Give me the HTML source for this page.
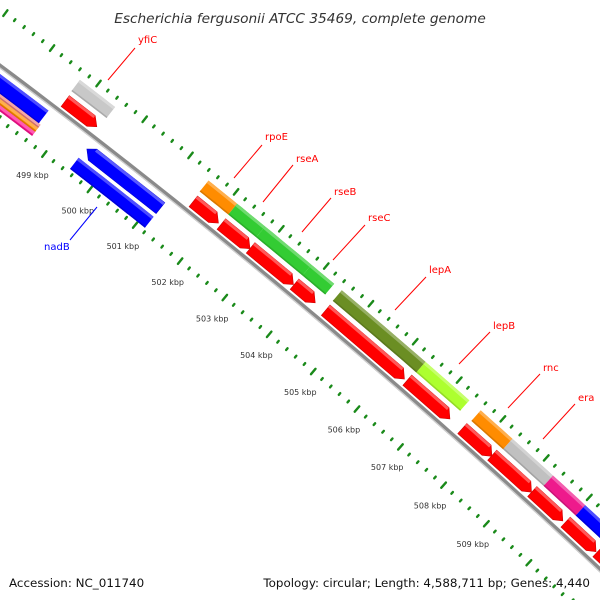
<!DOCTYPE html>
<html><head><meta charset="utf-8"><style>
html,body{margin:0;padding:0;background:#fff;width:600px;height:600px;overflow:hidden;}
svg{display:block;overflow:hidden;}
text{font-family:"DejaVu Sans","Liberation Sans",sans-serif;}
</style></head><body>
<svg id="map" width="600" height="600" viewBox="0 0 600 600" xmlns="http://www.w3.org/2000/svg">
<rect width="600" height="600" fill="#fff"/>
<g id="ticks"></g>
<g id="feat"></g>
<g id="bb"></g>
<g id="labels"></g>
<text x="300" y="23" text-anchor="middle" font-size="13.7" font-style="italic" fill="#333">Escherichia fergusonii ATCC 35469, complete genome</text>
<text x="9" y="587" font-size="11.9" fill="#111">Accession: NC_011740</text>
<text x="590" y="587" text-anchor="end" font-size="11.9" fill="#111">Topology: circular; Length: 4,588,711 bp; Genes: 4,440</text>
</svg>
<script>
// data (kbp)
const tickStart = 497.0;
const tickEnd = 512.0;
const tickLabels = [499,500,501,502,503,504,505,506,507,508,509];
const fwdCdsStart = [498.73,501.53,502.15,502.80,503.78,504.48,506.33,507.59,508.28,509.21,509.99,510.74];
const fwdCdsEnd   = [499.43,502.10,502.80,503.77,504.26,506.28,507.32,508.29,509.21,509.94,510.72,511.50];
const geneNames = ["yfiC","rpoE","rseA","rseB","rseC","lepA","lepB","rnc","era","gene-pink","gene-blue"];
const geneStart = [498.71,501.51,502.14,502.76,503.79,504.47,506.36,507.62,508.35,509.29,510.04];
const geneEnd   = [499.47,502.14,502.76,503.79,504.30,506.36,507.36,508.35,509.29,510.04,511.50];
const geneColor = ["#c8c8c8","#ff8c00","#33cc33","#33cc33","#33cc33","#6b8e23","#adff2f","#ff8c00","#c0c0c0","#ee1a8c","#0000ff"];
const revCdsStart = [496.50,499.53];
const revCdsEnd   = [498.60,501.16];
const revStripeStart = [496.50,496.50,496.50,499.51];
const revStripeEnd   = [498.64,498.64,498.64,501.16];
const revStripeColor = ["#f08080","#ff8c00","#ff1493","#0000ff"];

const SVGNS="http://www.w3.org/2000/svg";
const R=7000, CX=-4194, CY=5671, K0=504.05, PX=58;
const A0=Math.atan2(302-CY,300-CX);
function sOf(k){return (k-K0)*PX;}
function pt(k,r){const a=A0+sOf(k)/R;return [CX+(R+r)*Math.cos(a),CY+(R+r)*Math.sin(a)];}
function el(tag,attrs,parent){const e=document.createElementNS(SVGNS,tag);for(const k in attrs)e.setAttribute(k,attrs[k]);parent.appendChild(e);return e;}
function band(k0,k1,r0,r1){const n=6,p=[];for(let i=0;i<=n;i++)p.push(pt(k0+(k1-k0)*i/n,r1));for(let i=n;i>=0;i--)p.push(pt(k0+(k1-k0)*i/n,r0));return p.map(q=>q[0].toFixed(1)+","+q[1].toFixed(1)).join(" ");}
function lighten(c,f){const n=parseInt(c.slice(1),16);let r=n>>16,g=(n>>8)&255,b=n&255;r=Math.round(r+(255-r)*f);g=Math.round(g+(255-g)*f);b=Math.round(b+(255-b)*f);return "rgb("+r+","+g+","+b+")";}
function darken(c,f){const n=parseInt(c.slice(1),16);return "rgb("+Math.round((n>>16)*f)+","+Math.round(((n>>8)&255)*f)+","+Math.round((n&255)*f)+")";}

const ticks=document.getElementById('ticks');
for(let k=tickStart;k<=tickEnd+1e-6;k+=0.2){
  const major=Math.abs(k-Math.round(k))<1e-6;
  [46,-43].forEach(rr=>{
    const h=major?3.5:1.1;
    const a=pt(k,rr-h),b=pt(k,rr+h);
    const t=el('line',{x1:a[0],y1:a[1],x2:b[0],y2:b[1],stroke:'#1a8a1a','stroke-width':2.4,'stroke-linecap':'round'},ticks);
    
    
  });
}
tickLabels.forEach(k=>{
  const p=pt(k+0.06,-67);
  const t=el('text',{x:p[0].toFixed(1),y:(p[1]+3).toFixed(1),'text-anchor':'middle','font-size':'8',fill:'#333'},ticks);
  t.textContent=k+" kbp";
  
  
});

const feat=document.getElementById('feat');
function arrow(k0,k1,r0,r1,color,dir,name){
  const g=el('g',{},feat);
  
  
  const tip=8/PX, rm=(r0+r1)/2;
  let pts;
  if(dir>0){
    const a=pt(k0,r0),b=pt(k0,r1),c=pt(k1-tip,r1),d=pt(k1,rm-1),e=pt(k1-tip,r0);
    pts=[a,b,c,d,e];
  }else{
    const a=pt(k1,r0),b=pt(k1,r1),c=pt(k0+tip,r1),d=pt(k0,rm+1),e=pt(k0+tip,r0);
    pts=[a,b,c,d,e];
  }
  el('polygon',{points:pts.map(q=>q[0].toFixed(1)+","+q[1].toFixed(1)).join(" "),fill:color,stroke:darken(color,0.8),'stroke-width':0.6},g);
  const hk0=dir>0?k0:k0+tip, hk1=dir>0?k1-tip:k1;
  el('polygon',{points:band(hk0,hk1,r1-3,r1),fill:lighten(color,0.35)},g);
}
function bar(k0,k1,r0,r1,color,name){
  const g=el('g',{},feat);
  
  
  el('polygon',{points:band(k0,k1,r0,r1),fill:color},g);
  el('polygon',{points:band(k0,k1,r1-3,r1),fill:lighten(color,0.3)},g);
  el('polygon',{points:band(k0,k1,r0,r0+1.5),fill:darken(color,0.85)},g);
}
fwdCdsStart.forEach((s,i)=>arrow(s,fwdCdsEnd[i],5,18.5,'#ff0000',1,'forward-cds-'+(i+1)));
geneStart.forEach((s,i)=>bar(s,geneEnd[i],23.5,37.5,geneColor[i],'gene-'+geneNames[i]));
revCdsStart.forEach((s,i)=>{
  if(i===0) bar(s,revCdsEnd[i],-22,-6,'#0000ff','reverse-cds-'+(i+1));
  else arrow(s,revCdsEnd[i],-21,-7,'#0000ff',-1,'reverse-cds-nadB');
});
[[-26,-22],[-31,-26],[-36,-31],[-39,-25]].forEach((rr,i)=>{
  bar(revStripeStart[i],revStripeEnd[i],rr[0],rr[1],revStripeColor[i],'reverse-gene-'+(i+1));
});

const bb=document.getElementById('bb');
function arcPath(r){const p=[];for(let k=495;k<=513;k+=0.25){const q=pt(k,r);p.push((p.length?"L":"M")+q[0].toFixed(1)+","+q[1].toFixed(1));}return p.join("");}
const b1=el('path',{d:arcPath(0.5),fill:'none',stroke:'#8a8a8a','stroke-width':4.5},bb);


const b2=el('path',{d:arcPath(-1.2),fill:'none',stroke:'#cfcfcf','stroke-width':1.3},bb);



const labels=document.getElementById('labels');
const lab=[["yfiC",108,80,135,48,138,43,"#ff0000"],["rpoE",234,178,262,145,265,140,"#ff0000"],["rseA",263,202,293,165,296,162,"#ff0000"],["rseB",302,232,331,198,334,195,"#ff0000"],["rseC",333,260,365,225,368,221,"#ff0000"],["lepA",395,310,426,277,429,273,"#ff0000"],["lepB",459,364,490,332,493,329,"#ff0000"],["rnc",508,408,540,374,543,371,"#ff0000"],["era",543,439,575,404,578,401,"#ff0000"],["nadB",97,207,70,240,44,250,"#0000ff"]];
lab.forEach(l=>{
  const ln=el('line',{x1:l[1],y1:l[2],x2:l[3],y2:l[4],stroke:l[7],'stroke-width':1},labels);
  
  
  const t=el('text',{x:l[5],y:l[6],'font-size':'10',fill:l[7]},labels);
  t.textContent=l[0];
  
  
});
</script>
</body></html>
